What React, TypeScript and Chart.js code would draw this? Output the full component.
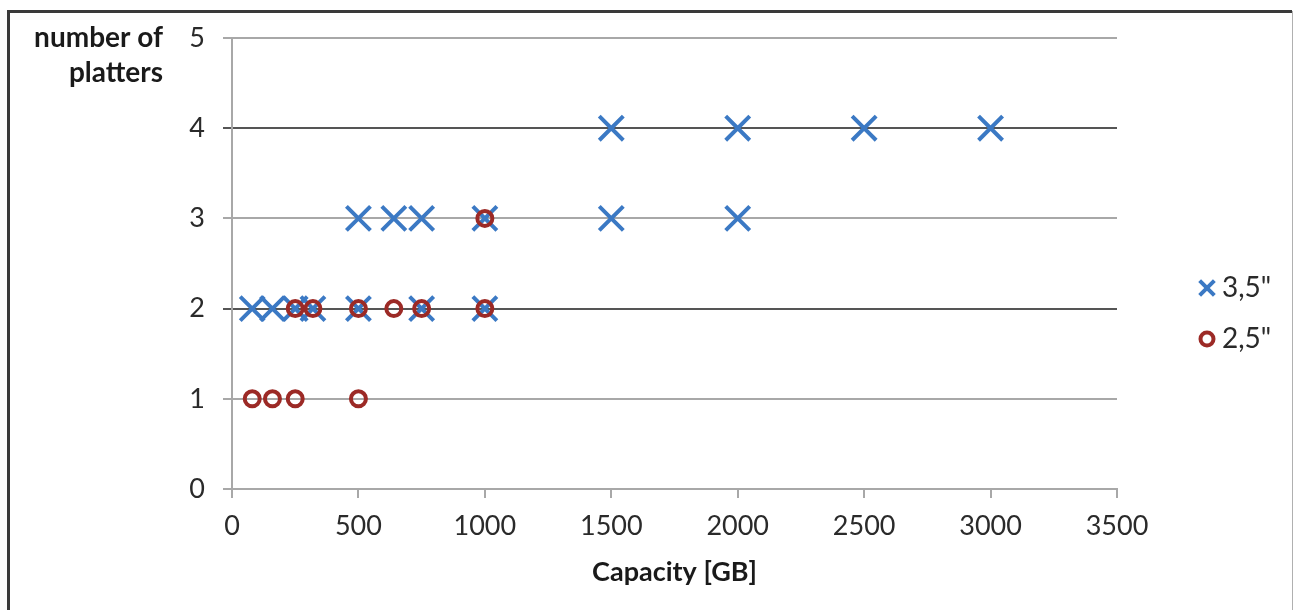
import React, { useEffect, useRef } from 'react';
import { Chart, registerables } from 'chart.js';

Chart.register(...registerables);

// ---- data ----
const series35Label = '3,5"';
const series25Label = '2,5"';
const capacity35 = [80, 160, 250, 320, 500, 750, 1000, 500, 640, 750, 1000, 1500, 2000, 1500, 2000, 2500, 3000];
const platters35 = [2, 2, 2, 2, 2, 2, 2, 3, 3, 3, 3, 3, 3, 4, 4, 4, 4];
const capacity25 = [80, 160, 250, 500, 250, 320, 500, 640, 750, 1000, 1000];
const platters25 = [1, 1, 1, 1, 2, 2, 2, 2, 2, 2, 3];
const xTickValues = [0, 500, 1000, 1500, 2000, 2500, 3000, 3500];
const yTickValues = [0, 1, 2, 3, 4, 5];
const xTitle = 'Capacity [GB]';
const yTitleLines = ['number of', 'platters'];

const BLUE = '#3b79c4';
const RED = '#9c2a26';
const GRID = '#a8a8a8';
const GRID_DARK = '#555555';
const FONT = 'Lato, "Open Sans", sans-serif';

const decorPlugin = {
  id: 'decor',
  afterDraw(chart: any) {
    const ctx = chart.ctx;
    const area = chart.chartArea;
    ctx.save();
    // frame
    ctx.strokeStyle = '#3a3a3a';
    ctx.lineWidth = 3;
    ctx.beginPath();
    ctx.moveTo(8.5, 612);
    ctx.lineTo(8.5, 11.5);
    ctx.lineTo(1292, 11.5);
    ctx.stroke();
    ctx.strokeStyle = '#b0b0b0';
    ctx.lineWidth = 1;
    ctx.beginPath();
    ctx.moveTo(1292.5, 11);
    ctx.lineTo(1292.5, 612);
    ctx.stroke();

    // y title (horizontal, right aligned)
    ctx.fillStyle = '#1a1a1a';
    ctx.font = `bold 28px ${FONT}`;
    ctx.textAlign = 'right';
    ctx.textBaseline = 'middle';
    ctx.fillText(yTitleLines[0], area.left - 69, area.top);
    ctx.fillText(yTitleLines[1], area.left - 69, area.top + 35);

    // legend
    const lx = area.right + 90;
    const ly1 = 288;
    const ly2 = 339;
    const r = 16 * Math.SQRT1_2;
    ctx.strokeStyle = BLUE;
    ctx.lineWidth = 4;
    ctx.beginPath();
    ctx.moveTo(lx - r * 0.65, ly1 - r * 0.65);
    ctx.lineTo(lx + r * 0.65, ly1 + r * 0.65);
    ctx.moveTo(lx - r * 0.65, ly1 + r * 0.65);
    ctx.lineTo(lx + r * 0.65, ly1 - r * 0.65);
    ctx.stroke();
    ctx.strokeStyle = RED;
    ctx.beginPath();
    ctx.arc(lx, ly2, 6.5, 0, Math.PI * 2);
    ctx.stroke();
    ctx.fillStyle = '#2a2a2a';
    ctx.font = `28px ${FONT}`;
    ctx.textAlign = 'left';
    ctx.fillText(series35Label, lx + 15, ly1);
    ctx.fillText(series25Label, lx + 15, ly2);
    ctx.restore();
  },
};

export default function App() {
  const canvasRef = useRef<HTMLCanvasElement | null>(null);

  useEffect(() => {
    if (!canvasRef.current) return;
    const chart = new Chart(canvasRef.current, {
      type: 'scatter',
      data: {
        datasets: [
          {
            label: series35Label,
            data: capacity35.map((x, i) => ({ x, y: platters35[i] })),
            pointStyle: 'crossRot',
            pointRadius: 17,
            pointHoverRadius: 17,
            pointBorderWidth: 4,
            borderColor: BLUE,
            backgroundColor: BLUE,
            order: 1,
          },
          {
            label: series25Label,
            data: capacity25.map((x, i) => ({ x, y: platters25[i] })),
            pointStyle: 'circle',
            pointRadius: 7.5,
            pointHoverRadius: 7.5,
            pointBorderWidth: 4,
            borderColor: RED,
            backgroundColor: 'rgba(0,0,0,0)',
            order: 0,
          },
        ],
      },
      options: {
        animation: false,
        responsive: false,
        maintainAspectRatio: false,
        layout: { padding: { left: 0, top: 38, right: 176, bottom: 0 } },
        plugins: {
          legend: { display: false },
          tooltip: { enabled: false },
        },
        scales: {
          x: {
            type: 'linear',
            min: 0,
            max: 3500,
            afterBuildTicks: (s: any) => {
              s.ticks = xTickValues.map((v) => ({ value: v }));
            },
            afterFit: (s: any) => {
              s.height = 121;
            },
            grid: {
              display: true,
              drawOnChartArea: false,
              drawTicks: true,
              tickLength: 9,
              color: GRID,
              lineWidth: 2,
            },
            border: { display: true, color: GRID, width: 2 },
            ticks: {
              font: { family: FONT, size: 27 },
              color: '#2a2a2a',
              padding: 12,
              maxRotation: 0,
              autoSkip: false,
              callback: (v: any) => String(v),
            },
            title: {
              display: true,
              text: xTitle,
              font: { family: FONT, size: 27, weight: 'bold' },
              color: '#1a1a1a',
              padding: { top: 0, bottom: 22 },
            },
          },
          y: {
            type: 'linear',
            min: 0,
            max: 5,
            afterBuildTicks: (s: any) => {
              s.ticks = yTickValues.map((v) => ({ value: v }));
            },
            afterFit: (s: any) => {
              s.width = 232;
            },
            grid: {
              display: true,
              drawTicks: true,
              tickLength: 9,
              color: (c: any) => (c.tick && (c.tick.value === 2 || c.tick.value === 4) ? GRID_DARK : GRID),
              lineWidth: 2,
            },
            border: { display: true, color: GRID, width: 2 },
            ticks: {
              font: { family: FONT, size: 27 },
              color: '#2a2a2a',
              padding: 18,
              callback: (v: any) => String(v),
            },
          },
        },
      },
      plugins: [decorPlugin],
    } as any);
    return () => chart.destroy();
  }, []);

  return (
    <div style={{ position: 'absolute', left: 0, top: 0, width: 1293, height: 610, background: '#ffffff' }}>
      <canvas ref={canvasRef} width={1293} height={610} style={{ width: 1293, height: 610, display: 'block' }} />
    </div>
  );
}
